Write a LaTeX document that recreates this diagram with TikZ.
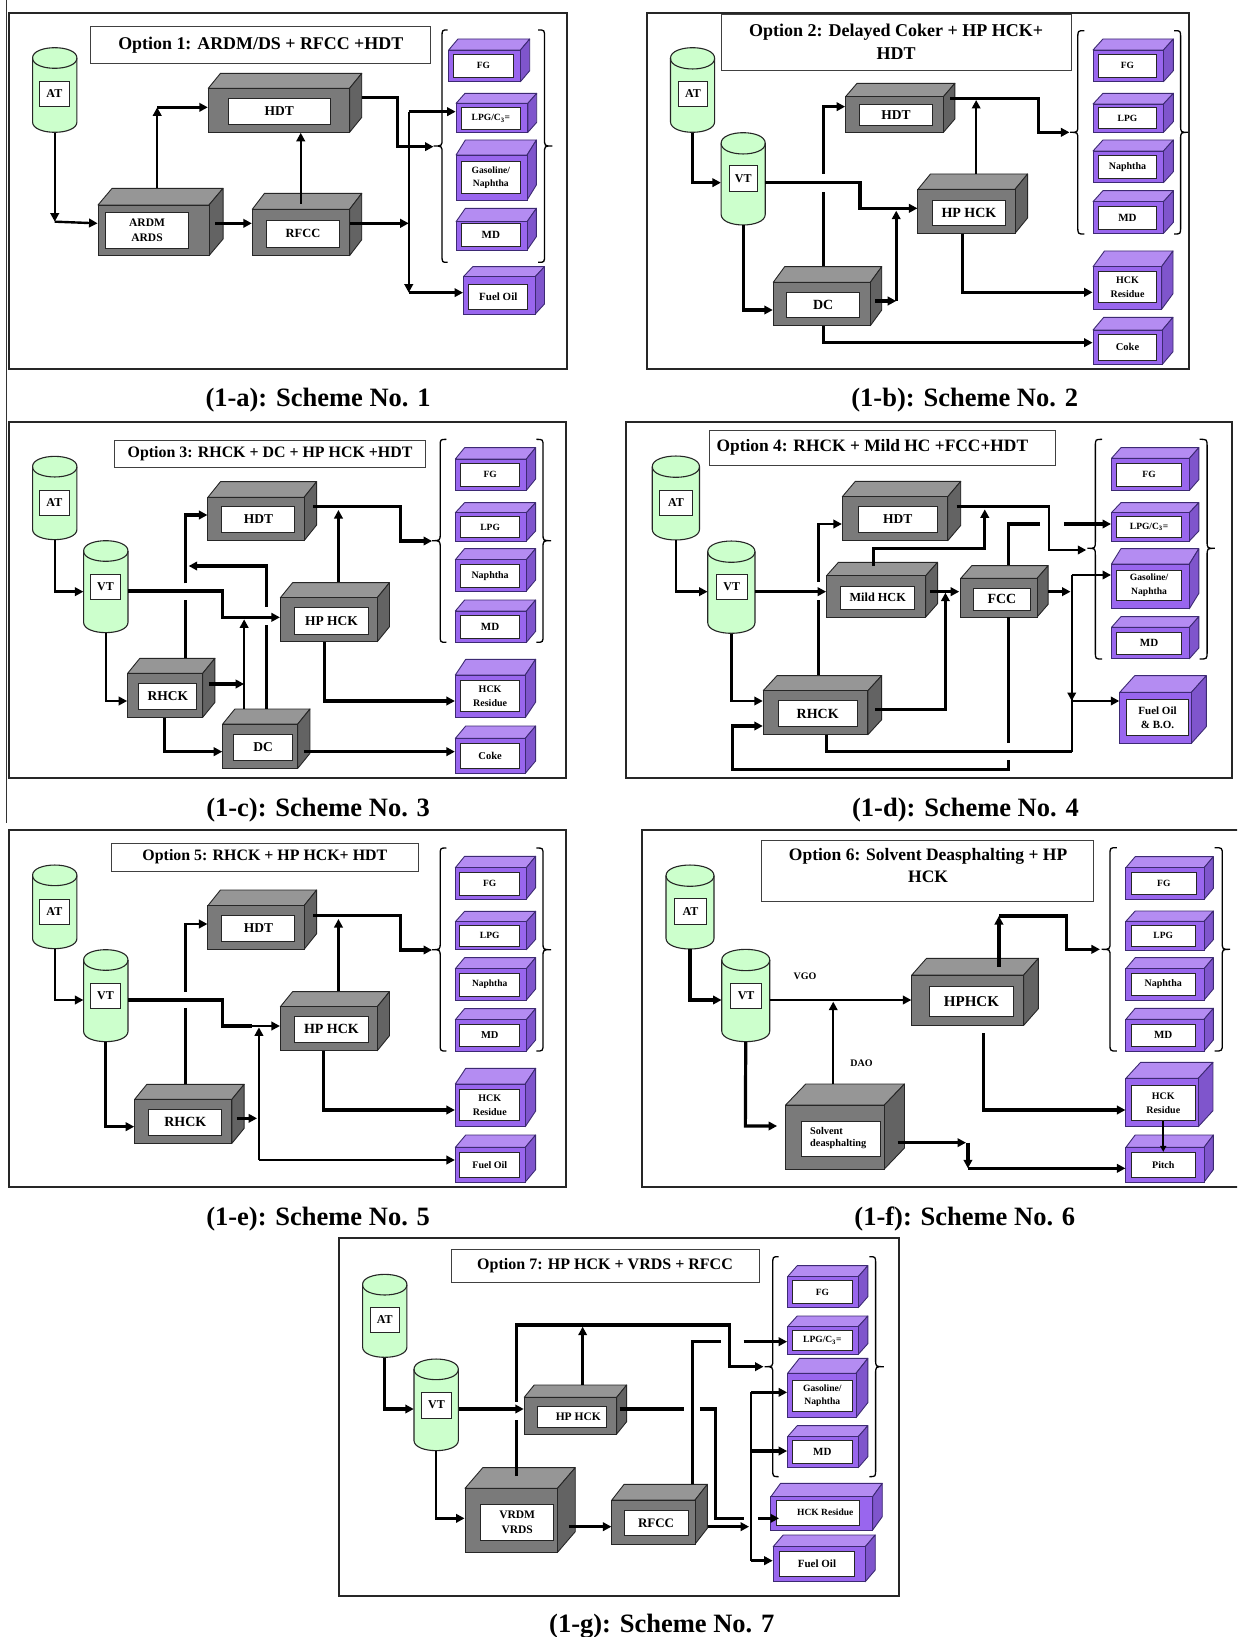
\documentclass[tikz,border=0pt]{standalone}
\usepackage{fontspec}
\setmainfont{Liberation Serif}
\usetikzlibrary{arrows.meta,fit}
\definecolor{gfront}{HTML}{7A7A7A}
\definecolor{gtop}{HTML}{969696}
\definecolor{gside}{HTML}{636363}
\definecolor{gedge}{HTML}{262626}
\definecolor{pfront}{HTML}{9966EE}
\definecolor{ptop}{HTML}{B48CF2}
\definecolor{pside}{HTML}{7F55CC}
\definecolor{pedge}{HTML}{3D2A73}
\definecolor{cylfill}{HTML}{CCFFCC}
\tikzset{
  ln/.style={line width=2.4pt},
  lnb/.style={line width=3.2pt},
  arr/.style={line width=2.4pt,-{Triangle[length=8.5pt,width=8.5pt]}},
  arrb/.style={line width=3.2pt,-{Triangle[length=8.5pt,width=8.5pt]}},
  arrt/.style={line width=1.5pt,-{Triangle[length=6pt,width=6pt]}},
  frame/.style={draw=black!85,line width=2pt},
  titlebox/.style={draw=black!75,line width=0.9pt,fill=white,inner sep=0pt},
  capt/.style={font=\bfseries\fontsize{26.5}{30}\selectfont},
  lab/.style={draw=black!85,line width=0.9pt,fill=white,inner sep=0pt,align=center},
  bracestyle/.style={draw=black,line width=1.3pt},
  fl/.style={font=\bfseries\fontsize{10}{12}\selectfont,inner sep=0pt}
}
\def\splitxy#1,#2\relax{\def\mydx{#1}\def\mydy{#2}}
% name, NW, SE, depth dx,dy, inner NW, inner SE, font size, text, palette prefix
\newcommand{\mybox}[9]{%
  \splitxy#4\relax
  \coordinate (#1-a) at (#2);
  \coordinate (#1-c) at (#3);
  \coordinate (#1-b) at (#1-c |- #1-a);
  \path (#1-a) ++(\mydx,-\mydy) coordinate (#1-aa);
  \path (#1-b) ++(\mydx,-\mydy) coordinate (#1-bb);
  \path (#1-c) ++(\mydx,-\mydy) coordinate (#1-cc);
  \draw[draw=#9edge,line width=0.9pt,line join=round,fill=#9top] (#1-a) -- (#1-aa) -- (#1-bb) -- (#1-b) -- cycle;
  \draw[draw=#9edge,line width=0.9pt,line join=round,fill=#9side] (#1-b) -- (#1-bb) -- (#1-cc) -- (#1-c) -- cycle;
  \node[fit=(#1-a)(#1-c),inner sep=0pt,draw=#9edge,line width=0.9pt,fill=#9front] (#1f) {};
  \coordinate (#1-p) at (#5);
  \coordinate (#1-q) at (#6);
  \node[fit=(#1-p)(#1-q),lab] (#1i) {};
  \node[font=\bfseries\fontsize{#7}{#7}\selectfont,align=center,inner sep=0pt] at (#1i.center) {#8};
  \node[fit=(#1-a)(#1-bb)(#1-c),inner sep=0pt] (#1) {};
}
% name, cx, y top centre, y bottom centre, rx, ry, inner NW, inner SE, text
\newcommand{\mycyl}[9]{%
  \coordinate (#1-a) at ({#2-#5},{#3-#6});
  \coordinate (#1-c) at ({#2+#5},{#4+#6});
  \draw[draw=black!85,line width=1.1pt,fill=cylfill]
     ({#2-#5},#3) -- ({#2-#5},#4) .. controls ({#2-#5},{#4+1.33*#6}) and ({#2+#5},{#4+1.33*#6}) .. ({#2+#5},#4)
     -- ({#2+#5},#3) .. controls ({#2+#5},{#3-1.33*#6}) and ({#2-#5},{#3-1.33*#6}) .. ({#2-#5},#3) -- cycle;
  \draw[draw=black!85,line width=1.1pt] ({#2-#5},#3) .. controls ({#2-#5},{#3+1.33*#6}) and ({#2+#5},{#3+1.33*#6}) .. ({#2+#5},#3);
  \coordinate (#1-p) at (#7);
  \coordinate (#1-q) at (#8);
  \node[fit=(#1-p)(#1-q),lab,fill=white] (#1i) {};
  \node[font=\bfseries\fontsize{12}{12}\selectfont,inner sep=0pt] at (#1i.center) {#9};
  \node[fit=(#1-a)(#1-c),inner sep=0pt] (#1) {};
}
% spine, tip, end, top, mid, bottom
\newcommand{\mybrace}[6]{%
  \draw[bracestyle] (#3,#4) .. controls (#1,#4) .. (#1,{#4+22}) -- (#1,{#5-22}) .. controls (#1,#5) .. (#2,#5)
     .. controls (#1,#5) .. (#1,{#5+22}) -- (#1,{#6-22}) .. controls (#1,#6) .. (#3,#6);
}
% name, NW, SE, text, font size
\newcommand{\mytitle}[5]{%
  \coordinate (#1-a) at (#2);
  \coordinate (#1-c) at (#3);
  \node[fit=(#1-a)(#1-c),titlebox] (#1) {};
  \node[font=\bfseries\fontsize{#5}{23}\selectfont,align=center,inner sep=0pt] at (#1.center) {#4};
}
\begin{document}
\begin{tikzpicture}[x=1pt,y=-1pt]
\useasboundingbox (0,0) rectangle (1237,1637);
\clip (0,0) rectangle (1237,1637);
\fill[white] (0,0) rectangle (1237,1637);
\coordinate (ruleA) at (6.5,0);
\coordinate (ruleB) at (6.5,823);
\draw[black!80,line width=0.9pt] (ruleA) -- (ruleB);

% ===== Panel a =====
\begin{scope}[x=0.3699pt,y=-0.33333pt]
\coordinate (aF1) at (25,38); \coordinate (aF2) at (1533,1108);
\draw[frame] (aF1) rectangle (aF2);
\mytitle{aT}{245,80}{1165,190}{Option 1: ARDM/DS + RFCC +HDT}{17.9}
\mycyl{aAT}{148}{174}{366}{60}{31}{107,243}{187,319}{AT}
\mybox{aH}{563,265}{945,397}{33,45}{617,294}{893,372}{13.5}{HDT}{g}
\mybox{aA}{265,615}{565,767}{38,50}{285,637}{510,745}{11.5}{ARDM\\[3pt]ARDS}{g}
\mybox{aR}{682,628}{945,767}{33,48}{720,660}{918,741}{12.5}{RFCC}{g}
\mybox{aP1}{1213,150}{1407,245}{25,33}{1227,163}{1387,232}{9.5}{FG}{p}
\mybox{aP2}{1233,310}{1427,397}{24,30}{1247,323}{1407,387}{9.5}{LPG/C\textsubscript{3}=}{p}
\mybox{aP3}{1233,465}{1425,600}{25,45}{1247,485}{1407,580}{9.6}{Gasoline/\\[4pt]Naphtha}{p}
\mybox{aP4}{1233,665}{1425,750}{25,40}{1247,669}{1407,738}{11}{MD}{p}
\mybox{aP5}{1253,830}{1447,942}{25,30}{1267,853}{1427,928}{11}{Fuel Oil}{p}
\mybrace{1195}{1172}{1210}{90}{438}{787}
\mybrace{1472}{1493}{1455}{90}{438}{787}
\node[capt] (aC) at (860,1201) {(1-a): Scheme No. 1};
\coordinate (aJ1) at (148,665);
\coordinate (aJ2) at (425,322);
\coordinate (aJ3) at (1172,440);
\coordinate (aJ4) at (1105,670);
\coordinate (aJ5) at (1105,878);
\draw[arr] (aAT.south) -- (aJ1);
\draw[arr] (aJ1) -- (aAf.west |- 0,670);
\draw[arr] (425,0 |- aA.north) -- (aJ2);
\draw[arrb] (aJ2) -- (aHf.west |- aJ2);
\draw[arr] (813,612) -- (813,0 |- aHf.south);
\draw[arrb] (aH.east |- 0,292) -- (1075,292) -- (1075,440) -- (aJ3);
\draw[arrb] (aA.east |- 0,670) ++(-21,0) -- (aRf.west |- 0,670);
\draw[arr] (aRf.east |- 0,670) -- (aJ4);
\draw[ln] (1105,335) -- (aJ4);
\draw[arr] (aJ4) -- (aJ5);
\draw[arrb] (1105,335) -- (aP2f.west |- 0,335);
\draw[arrb] (aJ5) -- (aP5f.west |- aJ5);
\end{scope}

% ===== Panel b =====
\begin{scope}[xshift=640pt,x=0.3807pt,y=-0.33333pt]
\coordinate (bF1) at (18,38); \coordinate (bF2) at (1443,1108);
\draw[frame] (bF1) rectangle (bF2);
\mytitle{bT}{213,42}{1133,210}{Option 2: Delayed Coker + HP HCK+\\HDT}{18}
\mycyl{bAT}{138}{175}{365}{58}{32}{100,243}{178,320}{AT}
\mycyl{bVT}{271}{430}{643}{58}{32}{234,497}{308,573}{VT}
\mybox{bH}{540,290}{797,397}{30,40}{577,313}{768,375}{13.5}{HDT}{g}
\mybox{bHP}{730,568}{985,700}{33,46}{768,600}{960,675}{14}{HP HCK}{g}
\mybox{bD}{350,847}{605,977}{30,47}{385,878}{577,952}{14}{DC}{g}
\mybox{bP1}{1190,150}{1375,245}{26,33}{1204,163}{1357,232}{9.5}{FG}{p}
\mybox{bP2}{1190,312}{1375,397}{26,32}{1204,323}{1357,385}{9.5}{LPG}{p}
\mybox{bP3}{1190,453}{1375,548}{26,33}{1204,466}{1357,535}{10}{Naphtha}{p}
\mybox{bP4}{1190,605}{1375,700}{26,33}{1204,618}{1357,688}{11}{MD}{p}
\mybox{bP5}{1190,800}{1370,928}{30,47}{1204,815}{1357,908}{10}{HCK\\[3.5pt]Residue}{p}
\mybox{bP6}{1190,990}{1372,1093}{28,38}{1204,1003}{1357,1080}{10.5}{Coke}{p}
\mybrace{1150}{1130}{1167}{92}{397}{702}
\mybrace{1420}{1440}{1403}{92}{397}{702}
\node[capt] (bC) at (853,1201) {(1-b): Scheme No. 2};
\coordinate (bG1) at (483,575);
\coordinate (bG2) at (483,522);
\coordinate (bJ1) at (673,903);
\coordinate (bB) at (1128,397);
\draw[arr] (bAT.south) -- (138,548) -- (bVT.west |- 0,548);
\draw[lnb] (bVT.east |- 0,548) -- (578,548) -- (578,625) -- (640,625);
\draw[arr] (578,625) -- (bHPf.west |- 0,625);
\draw[arrb] (bVT.south) -- (271,930) -- (bDf.west |- 0,930);
\draw[lnb] (483,0 |- bD.north) -- (bG1);
\draw[arrb] (bG2) -- (483,320) -- (bHf.west |- 0,320);
\draw[arrb] (bDf.east |- 0,903) ++(12,0) -- (bJ1);
\draw[arrb] (bJ1) -- (673,632);
\draw[arrb] (bH.east |- 0,295) ++(-12,0) -- (1047,295) -- (1047,397) -- (bB);
\draw[arr] (883,0 |- bHP.north) -- (883,300);
\draw[arrb] (847,0 |- bHPf.south) -- (847,877) -- (bP5f.west |- 0,877);
\draw[arrb] (483,0 |- bDf.south) -- (483,1028) -- (bP6f.west |- 0,1028);
\end{scope}

% ===== Panel c =====
\begin{scope}[yshift=-410pt,x=0.3699pt,y=-0.33333pt]
\coordinate (cF1) at (25,35); \coordinate (cF2) at (1530,1105);
\draw[frame] (cF1) rectangle (cF2);
\mytitle{cT}{310,92}{1150,172}{Option 3: RHCK + DC + HP HCK +HDT}{15.9}
\mycyl{cAT}{148}{170}{358}{60}{31}{107,240}{187,316}{AT}
\mycyl{cVT}{286}{423}{637}{60}{31}{245,492}{325,568}{VT}
\mybox{cH}{562,262}{822,392}{34,47}{600,290}{797,367}{13.5}{HDT}{g}
\mybox{cHP}{758,563}{1020,695}{33,45}{797,593}{995,672}{13.5}{HP HCK}{g}
\mybox{cR}{345,790}{548,922}{33,45}{375,820}{532,897}{13.5}{RHCK}{g}
\mybox{cD}{602,942}{805,1075}{33,45}{632,973}{790,1050}{13.5}{DC}{g}
\mybox{cP1}{1231,147}{1423,241}{25,34}{1245,160}{1405,228}{9.5}{FG}{p}
\mybox{cP2}{1231,308}{1423,393}{25,30}{1245,320}{1405,382}{9.5}{LPG}{p}
\mybox{cP3}{1231,449}{1423,543}{25,33}{1245,463}{1405,532}{10}{Naphtha}{p}
\mybox{cP4}{1231,603}{1423,697}{25,33}{1245,616}{1405,684}{11}{MD}{p}
\mybox{cP5}{1231,795}{1420,923}{28,47}{1245,812}{1405,905}{10}{HCK\\[3.5pt]Residue}{p}
\mybox{cP6}{1231,985}{1420,1090}{28,37}{1245,1000}{1405,1075}{10.5}{Coke}{p}
\mybrace{1190}{1168}{1207}{88}{392}{697}
\mybrace{1468}{1490}{1450}{88}{392}{697}
\node[capt] (cC) at (860,1199) {(1-c): Scheme No. 3};
\coordinate (cG1) at (502,570);
\coordinate (cG2) at (502,520);
\coordinate (cG3) at (720,645);
\coordinate (cG4) at (720,590);
\coordinate (cJ1) at (660,822);
\coordinate (cJ2) at (510,468);
\coordinate (cB) at (1168,393);
\draw[arr] (cAT.south) -- (148,545) -- (cVT.west |- 0,545);
\draw[lnb] (cVT.east |- 0,543) -- (602,543) -- (602,622) -- (680,622);
\draw[arr] (602,622) -- (cHPf.west |- 0,622);
\draw[arr] (cVT.south) -- (286,873) -- (cRf.west |- 0,873);
\draw[ln] (502,0 |- cR.north) -- (cG1);
\draw[arrb] (cG2) -- (502,315) -- (cHf.west |- 0,315);
\draw[ln] (720,0 |- cD.north) -- (cG3);
\draw[arrb] (cG4) -- (720,468) -- (cJ2);
\draw[arr] (660,0 |- cD.north) -- (660,628);
\draw[arrb] (cRf.east |- 0,822) ++(15,0) -- (cJ1);
\draw[arrb] (444,0 |- cRf.south) -- (444,1025) -- (cDf.west |- 0,1025);
\draw[arrb] (cDf.east |- 0,1025) ++(15,0) -- (cP6f.west |- 0,1025);
\draw[arrb] (cHf.east |- 0,290) ++(23,0) -- (1082,290) -- (1082,393) -- (cB);
\draw[arr] (915,0 |- cHP.north) -- (915,300);
\draw[arrb] (878,0 |- cHPf.south) -- (878,873) -- (cP5f.west |- 0,873);
\end{scope}

% ===== Panel d =====
\begin{scope}[xshift=620pt,yshift=-410pt,x=0.3935pt,y=-0.33333pt]
\coordinate (dF1) at (15,35); \coordinate (dF2) at (1555,1105);
\draw[frame] (dF1) rectangle (dF2);
\coordinate (dT-a) at (228,62); \coordinate (dT-c) at (1107,167);
\node[fit=(dT-a)(dT-c),titlebox] (dT) {};
\node[font=\bfseries\fontsize{17.4}{21}\selectfont,inner sep=0pt,anchor=west] (dTt) at (245,113) {Option 4: RHCK + Mild HC +FCC+HDT};
\mycyl{dAT}{142}{170}{358}{60}{32}{100,240}{185,316}{AT}
\mycyl{dVT}{283}{425}{638}{60}{32}{245,493}{323,568}{VT}
\mybox{dH}{565,260}{833,392}{33,46}{605,290}{807,367}{13.5}{HDT}{g}
\mybox{dM}{525,497}{777,621}{30,40}{561,528}{749,597}{12.3}{Mild HCK}{g}
\mybox{dF}{866,505}{1060,621}{28,38}{898,535}{1043,601}{14}{FCC}{g}
\mybox{dR}{364,842}{630,974}{35,45}{402,872}{603,949}{14}{RHCK}{g}
\mybox{dP1}{1249,145}{1447,241}{24,32}{1262,161}{1427,228}{9.5}{FG}{p}
\mybox{dP2}{1249,308}{1447,393}{24,30}{1262,320}{1427,382}{9.5}{LPG/C\textsubscript{3}=}{p}
\mybox{dP3}{1249,462}{1447,596}{24,46}{1262,482}{1427,570}{9.6}{Gasoline/\\[4pt]Naphtha}{p}
\mybox{dP4}{1249,652}{1447,746}{24,32}{1262,666}{1427,734}{11}{MD}{p}
\mybox{dP5}{1270,847}{1452,1000}{38,50}{1287,867}{1445,977}{11}{Fuel Oil\\[3pt]\& B.O.}{p}
\mybrace{1208}{1188}{1225}{88}{415}{747}
\mybrace{1492}{1512}{1473}{88}{415}{747}
\node[capt] (dC) at (878,1199) {(1-d): Scheme No. 4};
\coordinate (dG1) at (504,570);
\coordinate (dG2) at (504,515);
\coordinate (dG3) at (1068,342);
\coordinate (dG4) at (1128,342);
\coordinate (dG5) at (987,998);
\coordinate (dG6) at (987,1050);
\coordinate (dJ1) at (1145,545);
\coordinate (dJ2) at (1148,1025);
\coordinate (dJ3) at (1148,873);
\coordinate (dJ4) at (862,545);
\coordinate (dB) at (1185,420);
\draw[arr] (dAT.south) -- (142,545) -- (dVT.west |- 0,545);
\draw[arr] (dVT.east |- 0,545) -- (dMf.west |- 0,545);
\draw[arr] (dVT.south) -- (283,873) -- (dRf.west |- 0,873);
\draw[lnb] (504,0 |- dR.north) -- (dG1);
\draw[arr] (dG2) -- (504,342) -- (dHf.west |- 0,342);
\draw[arrb] (645,468) -- (645,415) -- (927,415) -- (927,298);
\draw[arr] (dH.east |- 0,290) ++(-11,0) -- (1090,290) -- (1090,420) -- (dB);
\draw[arrb] (dMf.east |- 0,545) ++(10,0) -- (dJ4);
\draw[arr] (dR.east |- 0,898) ++(-17,0) -- (827,898) -- (827,548);
\draw[arrb] (dF.east |- 0,545) -- (dJ1);
\draw[lnb] (987,0 |- dF.north) -- (987,342) -- (dG3);
\draw[arrb] (dG4) -- (dP2f.west |- dG4);
\draw[ln] (dJ2) -- (1148,495);
\draw[arr] (1148,495) -- (dP3f.west |- 0,495);
\draw[arr] (1148,700) -- (dJ3);
\draw[arr] (dJ3) -- (dP5f.west |- dJ3);
\draw[lnb] (525,0 |- dRf.south) -- (525,1025) -- (dJ2);
\draw[lnb] (987,0 |- dFf.south) -- (dG5);
\draw[arrb] (dG6) -- (987,1078) -- (285,1078) -- (285,948) -- (dRf.west |- 0,948);
\end{scope}

% ===== Panel e =====
\begin{scope}[yshift=-820pt,x=0.3699pt,y=-0.33333pt]
\coordinate (eF1) at (25,30); \coordinate (eF2) at (1530,1102);
\draw[frame] (eF1) rectangle (eF2);
\mytitle{eT}{302,70}{1130,153}{Option 5: RHCK + HP HCK+ HDT}{15.9}
\mycyl{eAT}{148}{166}{355}{60}{31}{107,237}{187,313}{AT}
\mycyl{eVT}{286}{420}{634}{60}{31}{245,490}{325,566}{VT}
\mybox{eH}{562,257}{822,388}{34,47}{600,287}{797,363}{13.5}{HDT}{g}
\mybox{eHP}{758,560}{1020,692}{33,45}{797,590}{995,666}{14}{HP HCK}{g}
\mybox{eR}{364,838}{627,970}{33,45}{402,868}{600,946}{14}{RHCK}{g}
\mybox{eP1}{1231,143}{1423,237}{25,34}{1243,157}{1405,225}{9.5}{FG}{p}
\mybox{eP2}{1231,305}{1423,389}{25,31}{1243,316}{1405,378}{9.5}{LPG}{p}
\mybox{eP3}{1231,446}{1423,540}{25,33}{1243,460}{1405,528}{9.5}{Naphtha}{p}
\mybox{eP4}{1231,599}{1423,693}{25,33}{1243,612}{1405,680}{10.5}{MD}{p}
\mybox{eP5}{1231,792}{1420,920}{28,47}{1243,809}{1405,902}{10}{HCK\\[3.5pt]Residue}{p}
\mybox{eP6}{1231,982}{1420,1086}{28,37}{1243,997}{1405,1072}{10}{Fuel Oil}{p}
\mybrace{1190}{1168}{1207}{84}{389}{693}
\mybrace{1468}{1490}{1450}{84}{389}{693}
\node[capt] (eC) at (860,1196) {(1-e): Scheme No. 5};
\coordinate (eG1) at (502,565);
\coordinate (eG2) at (502,515);
\coordinate (eJ1) at (695,895);
\coordinate (eJ2) at (700,1020);
\coordinate (eB) at (1168,390);
\draw[arr] (eAT.south) -- (148,540) -- (eVT.west |- 0,540);
\draw[lnb] (eVT.east |- 0,540) -- (602,540) -- (602,618) -- (680,618);
\draw[arr] (602,618) -- (eHPf.west |- 0,618);
\draw[arrb] (eVT.south) -- (286,920) -- (eRf.west |- 0,920);
\draw[ln] (502,0 |- eR.north) -- (eG1);
\draw[arr] (eG2) -- (502,312) -- (eHf.west |- 0,312);
\draw[arrb] (eR.east |- 0,895) ++(-20,0) -- (eJ1);
\draw[arr] (eJ2) -- (700,622);
\draw[arr] (eJ2) -- (eP6f.west |- eJ2);
\draw[arrb] (eHf.east |- 0,287) ++(23,0) -- (1082,287) -- (1082,390) -- (eB);
\draw[arr] (915,0 |- eHP.north) -- (915,297);
\draw[arrb] (875,0 |- eHPf.south) -- (875,870) -- (eP5f.west |- 0,870);
\end{scope}

% ===== Panel f =====
\begin{scope}[xshift=630pt,yshift=-820pt,x=0.3871pt,y=-0.33333pt]
\coordinate (fF1) at (30,30); \coordinate (fF2) at (1600,1102);
\draw[frame] (fF1) rectangle (fF2);
\coordinate (fT-a) at (340,60); \coordinate (fT-c) at (1198,243);
\node[fit=(fT-a)(fT-c),titlebox] (fT) {};
\node[font=\bfseries\fontsize{17.5}{22}\selectfont,align=center,inner sep=0pt] (fTt) at (770,138) {Option 6: Solvent Deasphalting + HP\\HCK};
\mycyl{fAT}{155}{167}{355}{62}{32}{114,235}{198,313}{AT}
\mycyl{fVT}{299}{420}{633}{62}{32}{260,490}{340,566}{VT}
\mybox{fH}{728,465}{1017,616}{38,50}{773,500}{991,589}{15}{HPHCK}{g}
\mybox{fS}{402,855}{657,1047}{52,63}{442,903}{647,1009}{10.3}{\begin{tabular}{@{}l@{\hspace{5pt}}}Solvent\\[2pt]deasphalting\end{tabular}}{g}
\mybox{fP1}{1281,143}{1483,238}{24,33}{1295,157}{1463,224}{9.5}{FG}{p}
\mybox{fP2}{1281,304}{1483,390}{24,31}{1295,316}{1460,378}{9.5}{LPG}{p}
\mybox{fP3}{1281,446}{1483,540}{24,33}{1295,460}{1460,526}{10}{Naphtha}{p}
\mybox{fP4}{1281,598}{1483,693}{24,33}{1295,612}{1460,680}{11}{MD}{p}
\mybox{fP5}{1281,775}{1468,920}{38,48}{1295,797}{1460,902}{10}{HCK\\[3.5pt]Residue}{p}
\mybox{fP6}{1281,982}{1483,1086}{24,37}{1295,997}{1460,1072}{10}{Pitch}{p}
\mybrace{1240}{1218}{1258}{83}{388}{693}
\mybrace{1530}{1550}{1510}{83}{388}{693}
\node[capt] (fC) at (865,1196) {(1-f): Scheme No. 6};
\node[fl] (fL1) at (452,470) {VGO};
\node[fl] (fL2) at (598,730) {DAO};
\coordinate (fJ1) at (380,918);
\coordinate (fJ2) at (953,288);
\coordinate (fJ3) at (953,440);
\coordinate (fJ4) at (913,640);
\coordinate (fJ5) at (868,968);
\coordinate (fJ6) at (873,1045);
\coordinate (fB) at (1214,388);
\draw[arrb] (fAT.south) -- (155,540) -- (fVT.west |- 0,540);
\draw[arr] (fVT.east |- 0,540) -- (fHf.west |- 0,540);
\draw[arrb] (fVT.south) -- (298,918) -- (fJ1);
\draw[arr] (525,0 |- fS.north) -- (525,545);
\draw[arrb] (fJ3) -- (fJ2);
\draw[arrb] (fJ2) -- (1128,288) -- (1128,388) -- (fB);
\draw[arrb] (fJ4) -- (913,870) -- (fP5f.west |- 0,870);
\draw[arrb] (fSf.east |- 0,968) ++(33,0) -- (fJ5);
\draw[arrb] (873,968) -- (fJ6);
\draw[arrb] (fJ6) -- (fP6f.west |- fJ6);
\draw[arrt] (fP5i.south) -- (fP6i.north);
\end{scope}

% ===== Panel g =====
\begin{scope}[xshift=330pt,yshift=-1230pt,x=0.3699pt,y=-0.33333pt]
\coordinate (gF1) at (25,25); \coordinate (gF2) at (1538,1098);
\draw[frame] (gF1) rectangle (gF2);
\mytitle{gT}{327,57}{1160,157}{Option 7: HP HCK + VRDS + RFCC}{16}
\mycyl{gAT}{148}{164}{351}{60}{31}{108,232}{188,308}{AT}
\mycyl{gVT}{287}{418}{631}{60}{31}{248,486}{328,564}{VT}
\mybox{gH}{525,502}{775,612}{27,37}{562,528}{748,592}{11.5}{\hspace*{12pt}HP HCK}{g}
\mybox{gV}{365,775}{615,967}{48,62}{407,822}{605,932}{11.5}{VRDM\\[4pt]VRDS}{g}
\mybox{gR}{762,810}{987,942}{33,47}{795,841}{968,916}{13}{RFCC}{g}
\mybox{gP1}{1237,140}{1428,233}{26,33}{1250,152}{1412,220}{9.5}{FG}{p}
\mybox{gP2}{1237,290}{1428,373}{26,32}{1250,301}{1412,362}{9.5}{LPG/C\textsubscript{3}=}{p}
\mybox{gP3}{1237,430}{1422,563}{32,45}{1250,450}{1412,543}{9.6}{Gasoline/\\[4pt]Naphtha}{p}
\mybox{gP4}{1237,620}{1428,713}{26,33}{1250,632}{1412,700}{11}{MD}{p}
\mybox{gP5}{1192,800}{1467,900}{26,40}{1208,810}{1432,885}{9.5}{\hspace*{14pt}HCK Residue}{p}
\mybox{gP6}{1198,950}{1447,1055}{27,35}{1215,965}{1418,1040}{11}{Fuel Oil}{p}
\mybrace{1197}{1175}{1213}{80}{410}{740}
\mybrace{1475}{1497}{1458}{80}{410}{740}
\node[capt] (gC) at (897,1188) {(1-g): Scheme No. 7};
\coordinate (gG1) at (505,570);
\coordinate (gG2) at (505,515);
\coordinate (gG3) at (958,537);
\coordinate (gG4) at (1000,537);
\coordinate (gG5) at (1118,865);
\coordinate (gG6) at (1158,865);
\coordinate (gG7) at (1058,335);
\coordinate (gG8) at (1118,335);
\coordinate (gG9) at (1214,865);
\coordinate (gJ1) at (1133,890);
\coordinate (gJ2) at (1138,487);
\coordinate (gJ3) at (1138,992);
\coordinate (gJ4) at (1138,663);
\coordinate (gB) at (1172,410);
\draw[arrb] (gAT.south) -- (148,537) -- (gVT.west |- 0,537);
\draw[arrb] (gVT.east |- 0,537) -- (gHf.west |- 0,537);
\draw[arr] (gVT.south) -- (287,865) -- (gVf.west |- 0,865);
\draw[lnb] (505,738) -- (gG1);
\draw[arrb] (gG2) -- (505,285) -- (1080,285) -- (1080,410) -- (gB);
\draw[arr] (683,0 |- gH.north) -- (683,290);
\draw[lnb] (gHf.east |- 0,537) ++(7,0) -- (gG3);
\draw[lnb] (gG4) -- (1042,537) -- (1042,865) -- (gG5);
\draw[arrb] (gG6) -- (gG9);
\draw[arrb] (gV.east |- 0,890) ++(-18,0) -- (gRf.west |- 0,890);
\draw[arr] (gR.east |- 0,890) -- (gJ1);
\draw[ln] (980,0 |- gR.north) -- (980,335) -- (gG7);
\draw[arrb] (gG8) -- (gP2f.west |- gG8);
\draw[ln] (gJ2) -- (gJ3);
\draw[arrb] (gJ2) -- (gP3f.west |- gJ2);
\draw[arrb] (gJ4) -- (gP4f.west |- gJ4);
\draw[arrb] (gJ3) -- (gP6f.west |- gJ3);
\end{scope}
\end{tikzpicture}
\end{document}
